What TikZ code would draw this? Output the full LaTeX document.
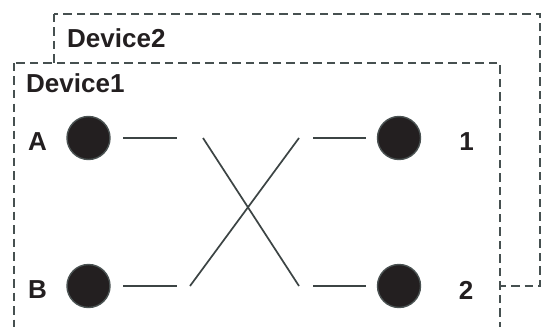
\documentclass[tikz,border=0pt]{standalone}
\usepackage{fontspec}
\setmainfont{Liberation Sans}
\begin{document}
\begin{tikzpicture}[x=1pt,y=-1pt,
  boxline/.style={draw=boxgray,line width=2.8pt,dash pattern=on 8.5pt off 5pt},
  port/.style={circle,fill=dotfill,draw=dotedge,line width=1.4pt,minimum size=43pt,inner sep=0pt},
  lbl/.style={font=\fontsize{26}{30}\selectfont\bfseries,text=txt,inner sep=0pt},
  wire/.style={draw=wiregray,line width=1.7pt}]
\definecolor{boxgray}{HTML}{465050}
\definecolor{dotfill}{HTML}{231F20}
\definecolor{dotedge}{HTML}{4A5252}
\definecolor{txt}{HTML}{231F20}
\definecolor{wiregray}{HTML}{3C4444}
\useasboundingbox (0,0) rectangle (545,326);
\clip (0,0) rectangle (545,326);
% boxes
\draw[boxline] (54,14) rectangle (540,286);
\filldraw[boxline,fill=white] (14,63) rectangle (500,345);
\node[lbl,anchor=west] (dev2) at (67,38) {Device2};
\node[lbl,anchor=west] (dev1) at (26,83) {Device1};
% ports
\node[port] (pa) at (88.5,138) {};
\node[port] (pb) at (88.5,286) {};
\node[port] (p1) at (399,138) {};
\node[port] (p2) at (399,286) {};
\node[lbl] (la) at (37.5,142) {A};
\node[lbl] (lb) at (37.5,290) {B};
\node[lbl] (l1) at (466.5,142) {1};
\node[lbl] (l2) at (466,290) {2};
% wire end points
\coordinate (a1) at (123,138); \coordinate (a2) at (177,138);
\coordinate (b1) at (123,286); \coordinate (b2) at (177,286);
\coordinate (c1) at (313,138); \coordinate (c2) at (366,138);
\coordinate (d1) at (313,286); \coordinate (d2) at (366,286);
\coordinate (x1) at (203,138); \coordinate (x2) at (299,286);
\coordinate (y1) at (299,138); \coordinate (y2) at (190,286);
\draw[wire] (a1) -- (a2);
\draw[wire] (b1) -- (b2);
\draw[wire] (c1) -- (c2);
\draw[wire] (d1) -- (d2);
\draw[wire] (x1) -- (x2);
\draw[wire] (y1) -- (y2);
\end{tikzpicture}
\end{document}
